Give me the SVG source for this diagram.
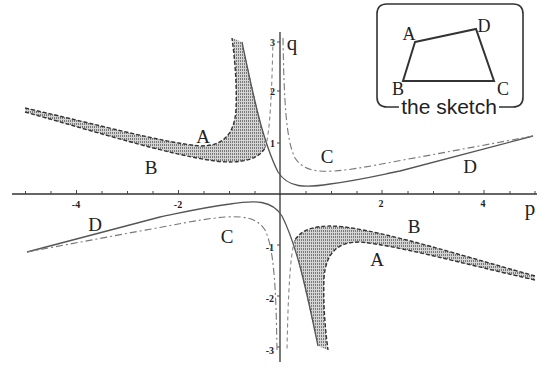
<svg xmlns="http://www.w3.org/2000/svg" xmlns:xlink="http://www.w3.org/1999/xlink" width="552" height="368" viewBox="0 0 552 368">
<style>
.ax{stroke:#333;stroke-width:1.3;fill:none}
.tk{stroke:#444;stroke-width:1;fill:none}
.sol{stroke:#555;stroke-width:1.3;fill:none}
.dd{stroke:#777;stroke-width:1.1;fill:none;stroke-dasharray:7 3 2 3}
.dot{stroke:#333;stroke-width:1.4;fill:none;stroke-dasharray:4 2}
.dsh{stroke:#888;stroke-width:1.1;fill:none;stroke-dasharray:4 3}
.lbl{font-family:"Liberation Serif",serif;font-size:19px;fill:#222;text-anchor:middle}
.tl{font-family:"Liberation Serif",serif;font-size:10px;font-weight:bold;fill:#222}
.sk{stroke:#333;stroke-width:2;fill:none}
.skl{font-family:"Liberation Serif",serif;font-size:18px;fill:#222;text-anchor:middle}
</style>
<defs>
<pattern id="stip" width="2" height="3" patternUnits="userSpaceOnUse">
<rect width="2" height="3" fill="#d4d4d4"/>
<rect x="0" y="0" width="1" height="2" fill="#7a7a7a"/>
</pattern>
<g id="half">
<path d="M25,108 C100,125 160,142 200,146 C222,146 234,136 236,110 C237,85 235,60 232,38 L242,42 L266,146 L265,148 C258,160 240,164 215,161 C170,155 100,133 25,112 Z" fill="url(#stip)" stroke="none"/>
<path class="dot" d="M25,108 C100,125 160,142 200,146 C222,146 234,136 236,110 C237,85 235,60 232,38"/>
<path class="dot" d="M25,112 C100,133 170,155 215,161 C240,164 258,160 265,148"/>
<path class="dsh" d="M265,148 C270,135 272,90 273,38"/>
<path class="sol" d="M242,42 C252,90 262,140 278,172 C288,188 305,188 330,184 C360,180 380,175 400,171 L533,136"/>
<path class="dd" d="M283,38 C284,100 286,140 295,158 C303,170 315,172 335,171 C360,169 390,162 420,157 L533,136"/>
</g>
</defs>
<g id="axes">
<line class="ax" x1="12" y1="194" x2="537" y2="194"/>
<line class="ax" x1="280" y1="32" x2="280" y2="362"/>
<path class="tk" d="M25.5,194v-3M51,194v-3M76.5,194v-4M102,194v-3M127.5,194v-3M153,194v-3M178.5,194v-4M204,194v-3M229.5,194v-3M255,194v-3M306,194v-3M331.5,194v-3M357,194v-3M382,194v-4M408,194v-3M433.5,194v-3M459,194v-3M484,194v-4M510,194v-3M535,194v-3"/>
<path class="tk" d="M280,42h-3M280,91h-3M280,143h-3M280,245h-3M280,296h-3M280,347h-3"/>
<text class="tl" x="76" y="208" text-anchor="middle">-4</text>
<text class="tl" x="178" y="208" text-anchor="middle">-2</text>
<text class="tl" x="381" y="207" text-anchor="middle">2</text>
<text class="tl" x="483" y="207" text-anchor="middle">4</text>
<text class="tl" x="275" y="46" text-anchor="end">3</text>
<text class="tl" x="275" y="95" text-anchor="end">2</text>
<text class="tl" x="275" y="147" text-anchor="end">1</text>
<text class="tl" x="274" y="251" text-anchor="end">-1</text>
<text class="tl" x="274" y="302" text-anchor="end">-2</text>
<text class="tl" x="274" y="354" text-anchor="end">-3</text>
<text class="lbl" x="292" y="50" style="font-size:21px">q</text>
<text class="lbl" x="530" y="215" style="font-size:21px">p</text>
</g>
<g id="curves">
<use xlink:href="#half" href="#half"/>
<use xlink:href="#half" href="#half" transform="rotate(180 280 194)"/>
</g>
<g id="labels">
<text class="lbl" x="203" y="143">A</text>
<text class="lbl" x="151" y="174">B</text>
<text class="lbl" x="327" y="163">C</text>
<text class="lbl" x="470" y="173">D</text>
<text class="lbl" x="95" y="231">D</text>
<text class="lbl" x="227" y="243">C</text>
<text class="lbl" x="414" y="233">B</text>
<text class="lbl" x="377" y="266">A</text>
</g>
<g id="sketch">
<path class="sk" style="stroke-width:1.6" d="M399,107 L387,107 Q377,107 377,97 L377,14 Q377,4 387,4 L513,4 Q523,4 523,14 L523,97 Q523,107 513,107 L499,107"/>
<path class="sk" d="M415,42 L476,29 L494,81 L403,81 Z"/>
<text class="skl" x="409" y="40">A</text>
<text class="skl" x="484" y="32">D</text>
<text class="skl" x="398" y="95">B</text>
<text class="skl" x="503" y="95">C</text>
<text x="449" y="114" style="font-family:'Liberation Sans',sans-serif;font-size:21px;fill:#222;text-anchor:middle">the sketch</text>
</g>
</svg>
